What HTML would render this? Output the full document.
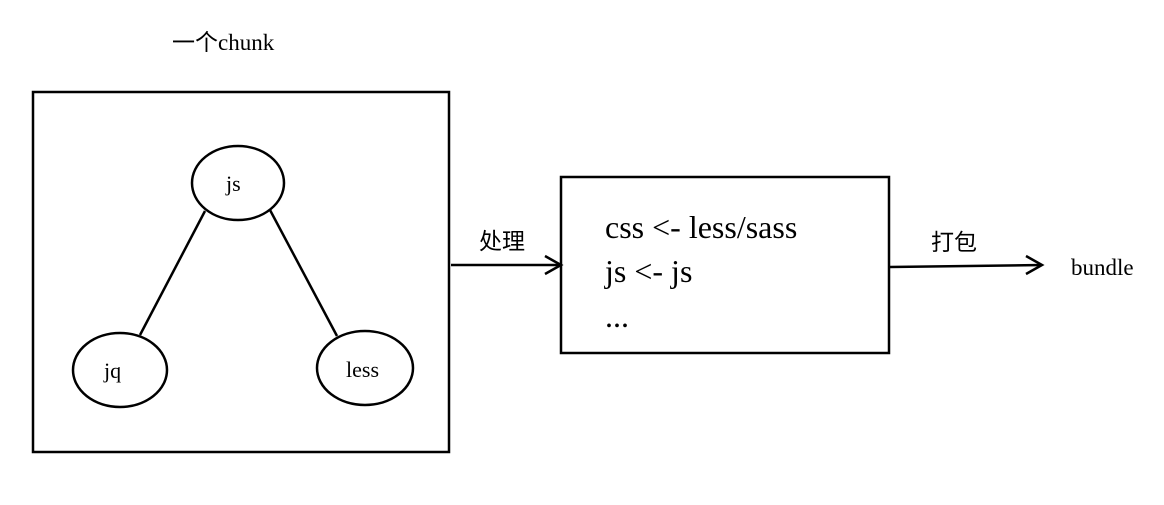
<!DOCTYPE html>
<html><head><meta charset="utf-8"><style>
html,body{margin:0;padding:0;background:#fff;width:1164px;height:505px;overflow:hidden}
svg text{font-family:"Liberation Serif","Noto Serif CJK SC",serif;fill:#000}
.cn{font-family:"Noto Sans CJK SC","WenQuanYi Zen Hei",sans-serif}
</style></head><body>
<svg width="1164" height="505" viewBox="0 0 1164 505" xmlns="http://www.w3.org/2000/svg">
<g fill="none" stroke="#000" stroke-width="2.5">
<rect x="33" y="92" width="416" height="360"/>
<ellipse cx="238" cy="183" rx="46" ry="37"/>
<ellipse cx="120" cy="370" rx="47" ry="37"/>
<ellipse cx="365" cy="368" rx="48" ry="37"/>
<line x1="205" y1="211" x2="140" y2="335"/>
<line x1="270" y1="210" x2="337" y2="336"/>
<rect x="561" y="177" width="328" height="176"/>
<line x1="451" y1="265" x2="560" y2="265"/>
<polyline points="545,256 561,265 545,274"/>
<line x1="890" y1="267" x2="1042" y2="265"/>
<polyline points="1026,256 1042,265 1026,274"/>
</g>
<text x="172" y="50" font-size="23"><tspan class="cn">一个</tspan>chunk</text>
<text x="226" y="191" font-size="22">js</text>
<text x="104" y="378" font-size="22">jq</text>
<text x="346" y="377" font-size="22">less</text>
<text x="479" y="249" font-size="23" class="cn">处理</text>
<text x="931" y="250" font-size="23" class="cn">打包</text>
<text x="1071" y="275" font-size="23">bundle</text>
<text x="605" y="238" font-size="32">css  &lt;-  less/sass</text>
<text x="605" y="282" font-size="32">js  &lt;-  js</text>
<text x="605" y="327" font-size="32">...</text>
</svg>
</body></html>
